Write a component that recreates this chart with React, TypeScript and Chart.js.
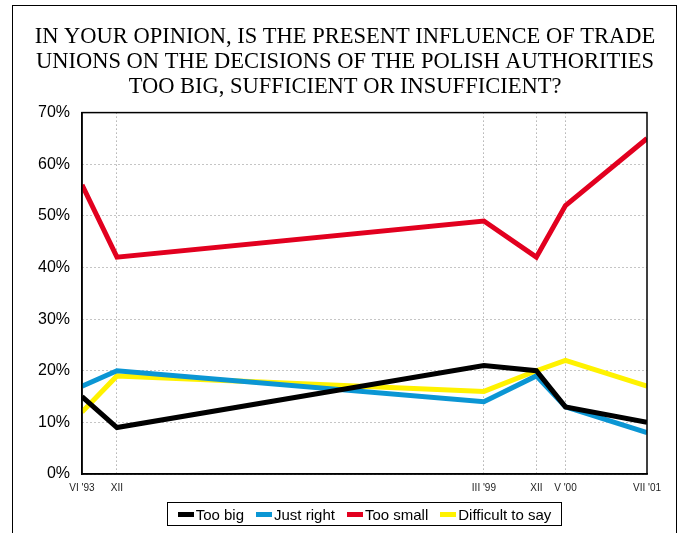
import React, { useEffect, useRef } from "react";
import { Chart, registerables } from "chart.js";

Chart.register(...registerables);

// Months counted from June 1993
const monthIndex = [0, 6, 69, 78, 83, 97];
const tickLabels = ["VI '93", "XII", "III '99", "XII", "V '00", "VII '01"];
const seriesNames = ["Too big", "Just right", "Too small", "Difficult to say"];
const tooBig = [15, 9, 21, 20, 13, 10];
const justRight = [17, 20, 14, 19, 13, 8];
const tooSmall = [56, 42, 49, 42, 52, 65];
const difficult = [12, 19, 16, 20, 22, 17];
const seriesColors = ["#000000", "#0b96d4", "#e2001f", "#fff200"];
const titleLines = [
  "IN YOUR OPINION, IS THE PRESENT INFLUENCE OF TRADE",
  "UNIONS ON THE DECISIONS OF THE POLISH AUTHORITIES",
  "TOO BIG, SUFFICIENT OR INSUFFICIENT?",
];

const SANS = "'Liberation Sans', Arial, sans-serif";
const SERIF = "'Liberation Serif', 'Times New Roman', serif";

const framePlugin = {
  id: "frame",
  beforeDraw(chart: any) {
    const ctx = chart.ctx;
    ctx.save();
    ctx.fillStyle = "#ffffff";
    ctx.fillRect(0, 0, chart.width, chart.height);
    ctx.strokeStyle = "#000000";
    ctx.lineWidth = 1;
    ctx.strokeRect(12.5, 5.5, 664, 560);
    ctx.restore();
  },
  afterDraw(chart: any) {
    const ctx = chart.ctx;
    const a = chart.chartArea;
    ctx.save();
    ctx.strokeStyle = "#000000";
    ctx.lineWidth = 1.5;
    ctx.strokeRect(a.left, a.top, a.right - a.left, a.bottom - a.top);
    ctx.restore();
  },
};

export default function App() {
  const ref = useRef<HTMLCanvasElement | null>(null);
  useEffect(() => {
    if (!ref.current) return;
    const all = [tooBig, justRight, tooSmall, difficult];
    const chart = new Chart(ref.current, {
      type: "line",
      data: {
        datasets: all.map((vals, k) => ({
          label: seriesNames[k],
          data: vals.map((v, i) => ({ x: monthIndex[i], y: v })),
          borderColor: seriesColors[k],
          backgroundColor: seriesColors[k],
          borderWidth: 5,
          pointRadius: 0,
          tension: 0,
          fill: false,
          borderJoinStyle: "miter",
        })),
      },
      plugins: [framePlugin],
      options: {
        responsive: false,
        animation: false,
        layout: { padding: { left: 8, right: 0, top: 0, bottom: 0 } },
        plugins: {
          title: {
            display: true,
            text: titleLines,
            color: "#000000",
            font: { family: SERIF, size: 22.5, weight: "normal", lineHeight: 1.12 },
            padding: { top: 24, bottom: 13 },
          },
          legend: { display: false },
          tooltip: { enabled: false },
        },
        scales: {
          x: {
            type: "linear",
            min: 0,
            max: 97,
            afterBuildTicks: (s: any) => {
              s.ticks = monthIndex.map((v) => ({ value: v }));
            },
            afterFit: (s: any) => {
              s.height = 59;
            },
            ticks: {
              autoSkip: false,
              maxRotation: 0,
              padding: 8,
              color: "#222222",
              font: { family: SANS, size: 10 },
              callback: (_v: any, i: number) => tickLabels[i],
            },
            grid: {
              drawTicks: false,
              color: (c: any) =>
                c.tick && (c.tick.value === 0 || c.tick.value === 97) ? "rgba(0,0,0,0)" : "#8a8a8a",
              lineWidth: 1,
            },
            border: { display: true, color: "#000000", width: 1.5, dash: [1, 3] },
          },
          y: {
            min: 0,
            max: 70,
            afterFit: (s: any) => {
              s.width = 74;
            },
            ticks: {
              stepSize: 10,
              padding: 12,
              color: "#000000",
              font: { family: SANS, size: 16 },
              callback: (v: any) => v + "%",
            },
            grid: {
              drawTicks: false,
              color: "#8a8a8a",
              lineWidth: 1,
            },
            border: { display: true, color: "#000000", width: 1.5, dash: [1, 3] },
          },
          yRight: {
            position: "right",
            min: 0,
            max: 70,
            afterFit: (s: any) => {
              s.width = 35;
            },
            ticks: { display: false },
            grid: { display: false, drawTicks: false },
            border: { display: false },
          },
        },
      },
    } as any);
    return () => chart.destroy();
  }, []);
  return (
    <div style={{ position: "fixed", left: 0, top: 0, width: 682, height: 533, background: "#fff" }}>
      <canvas ref={ref} width={682} height={533} style={{ display: "block" }} />
      <div
        style={{
          position: "absolute",
          left: 167,
          top: 502,
          width: 395,
          height: 24,
          boxSizing: "border-box",
          border: "1.5px solid #000",
          display: "flex",
          alignItems: "center",
          justifyContent: "center",
          gap: 12,
          fontFamily: SANS,
          fontSize: 15,
          color: "#000",
          whiteSpace: "nowrap",
        }}
      >
        {seriesNames.map((n, i) => (
          <div key={n} style={{ display: "flex", alignItems: "center", gap: 2 }}>
            <span style={{ display: "inline-block", width: 16, height: 5, background: seriesColors[i] }} />
            <span>{n}</span>
          </div>
        ))}
      </div>
    </div>
  );
}
